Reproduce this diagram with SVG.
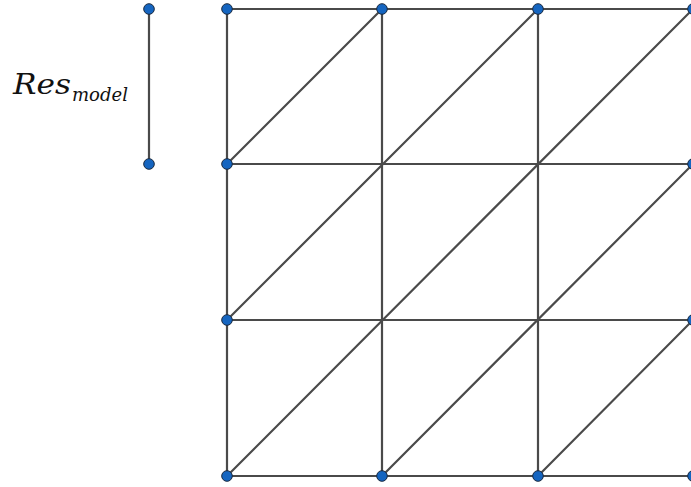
<svg xmlns="http://www.w3.org/2000/svg" width="691" height="487" viewBox="0 0 691 487">
<style>
.e{stroke:#4a4a4a;stroke-width:2.2;fill:none;stroke-linecap:round}
.p{fill:#1565c0;stroke:#1a2a40;stroke-width:1}
.t{font-family:"DejaVu Serif","Liberation Serif",serif;font-style:italic;fill:#111}
</style>
<rect width="691" height="487" fill="#fff"/>
<g id="connectors">
<path class="e" d="M149 9V164"/>
<path class="e" d="M227 9H693M227 164H693M227 320H693M227 476H693"/>
<path class="e" d="M227 9V476M382 9V476M538 9V476M693 9V476"/>
<path class="e" d="M227 164L382 9M227 320L538 9M227 476L693 9M382 476L693 164M538 476L693 320"/>
</g>
<g id="scale-top"><circle class="p" cx="149" cy="9" r="5.3"/></g>
<g id="scale-bottom"><circle class="p" cx="149" cy="164" r="5.3"/></g>
<g id="n-0-0"><circle class="p" cx="227" cy="9" r="5.3"/></g>
<g id="n-1-0"><circle class="p" cx="382" cy="9" r="5.3"/></g>
<g id="n-2-0"><circle class="p" cx="538" cy="9" r="5.3"/></g>
<g id="n-3-0"><circle class="p" cx="693" cy="9" r="5.3"/></g>
<g id="n-0-1"><circle class="p" cx="227" cy="164" r="5.3"/></g>
<g id="n-3-1"><circle class="p" cx="693" cy="164" r="5.3"/></g>
<g id="n-0-2"><circle class="p" cx="227" cy="320" r="5.3"/></g>
<g id="n-3-2"><circle class="p" cx="693" cy="320" r="5.3"/></g>
<g id="n-0-3"><circle class="p" cx="227" cy="476" r="5.3"/></g>
<g id="n-1-3"><circle class="p" cx="382" cy="476" r="5.3"/></g>
<g id="n-2-3"><circle class="p" cx="538" cy="476" r="5.3"/></g>
<g id="n-3-3"><circle class="p" cx="693" cy="476" r="5.3"/></g>
<g id="label">
<text class="t" x="13" y="94" font-size="28" textLength="58" lengthAdjust="spacingAndGlyphs">Res</text>
<text class="t" x="72" y="101" font-size="18" textLength="56" lengthAdjust="spacingAndGlyphs">model</text>
</g>
</svg>
